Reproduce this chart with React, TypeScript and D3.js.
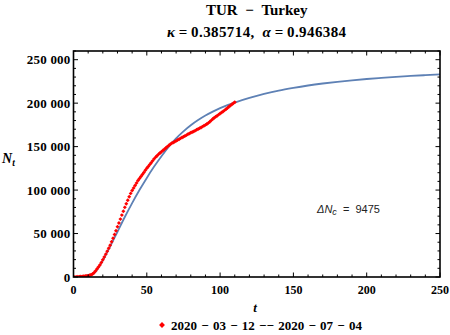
import { useEffect, useRef } from "react";
import * as d3 from "d3";

// fitted curve (t in days, N in cases)
const fitT = [0, 5, 10, 15, 20, 25, 30, 35, 40, 45, 50, 55, 60, 65, 70, 75, 80, 85, 90, 95, 100, 105, 110, 120, 130, 140, 150, 160, 170, 180, 190, 200, 210, 220, 230, 240, 250];
const fitN = [0, 300, 1500, 6000, 19000, 35000, 52000, 69000, 85000, 100000, 114000, 127000, 139000, 150000, 159500, 167500, 174500, 180500, 185700, 190200, 194200, 197700, 200700, 206000, 210600, 214500, 217600, 220300, 222600, 224600, 226300, 227800, 229100, 230300, 231300, 232200, 233000];

// observed daily totals, t = 0, 1, 2, ...
const obsN = [
  0, 50, 100, 200, 350, 500, 700, 900, 1100, 1300,
  1600, 2000, 2500, 3400, 4900, 6900, 9100, 11400, 13900, 16700,
  19800, 23000, 26300, 29600, 33000, 36600, 40500, 44600, 48900, 53300,
  57700, 62200, 66600, 71200, 75700, 80100, 84300, 88400, 92400, 96200,
  99400, 102400, 105300, 108200, 110900, 113300, 115600, 117800, 120300, 122700,
  125000, 127200, 129300, 131400, 133600, 135900, 137900, 139600, 141200, 142700,
  144000, 145500, 147000, 148500, 150000, 151400, 152700, 153800, 154800, 155700,
  156600, 157500, 158500, 159500, 160400, 161300, 162200, 163200, 164200, 165100,
  165900, 166700, 167500, 168400, 169300, 170200, 171100, 172000, 173000, 174000,
  175000, 176100, 177300, 178700, 180200, 181700, 183100, 184400, 185600, 186800,
  188000, 189200, 190400, 191700, 193100, 194500, 195900, 197200, 198500, 199800,
  201000,
];

const xTicks = [0, 50, 100, 150, 200, 250];
const yTicks = [0, 50000, 100000, 150000, 200000, 250000];
const legendText = "2020 − 03 − 12 −− 2020 − 07 − 04";

const App = () => {
  const svgRef = useRef<SVGSVGElement>(null);

  useEffect(() => {
    const svg = d3.select(svgRef.current);
    svg.selectAll("*").remove();

    const m = { left: 73.5, right: 440, top: 51, bottom: 277 };
    const serif = "'Liberation Serif', 'Times New Roman', serif";

    const x = d3.scaleLinear().domain([0, 250]).range([m.left, m.right]);
    const y = d3.scaleLinear().domain([0, 260000]).range([m.bottom, m.top]);

    svg
      .append("defs")
      .append("clipPath")
      .attr("id", "plot-clip")
      .append("rect")
      .attr("x", m.left)
      .attr("y", m.top)
      .attr("width", m.right - m.left)
      .attr("height", m.bottom - m.top);

    const plot = svg.append("g").attr("clip-path", "url(#plot-clip)");

    const line = d3
      .line<number>()
      .x((d, i) => x(fitT[i]))
      .y((d) => y(d))
      .curve(d3.curveMonotoneX);

    plot
      .append("path")
      .attr("d", line(fitN))
      .attr("fill", "none")
      .attr("stroke", "#5E81B5")
      .attr("stroke-width", 1.8);

    const diamond = d3.symbol(d3.symbolDiamond2, 10);
    plot
      .selectAll(".pt")
      .data(obsN)
      .enter()
      .append("path")
      .attr("class", "pt")
      .attr("d", diamond)
      .attr("transform", (d, i) => `translate(${x(i)},${y(d)})`)
      .attr("fill", "#ff0000");

    // frame
    svg
      .append("rect")
      .attr("x", m.left)
      .attr("y", m.top)
      .attr("width", m.right - m.left)
      .attr("height", m.bottom - m.top)
      .attr("fill", "none")
      .attr("stroke", "#000")
      .attr("stroke-width", 1.6);

    // ticks, inward on all four sides
    const ticks = svg.append("g").attr("stroke", "#000").attr("stroke-width", 1);
    d3.range(0, 251, 10).forEach((v) => {
      const len = v % 50 === 0 ? 4.5 : 2.5;
      ticks.append("line").attr("x1", x(v)).attr("x2", x(v)).attr("y1", m.bottom).attr("y2", m.bottom - len);
      ticks.append("line").attr("x1", x(v)).attr("x2", x(v)).attr("y1", m.top).attr("y2", m.top + len);
    });
    d3.range(0, 260001, 10000).forEach((v) => {
      const len = v % 50000 === 0 ? 4.5 : 2.5;
      ticks.append("line").attr("y1", y(v)).attr("y2", y(v)).attr("x1", m.left).attr("x2", m.left + len);
      ticks.append("line").attr("y1", y(v)).attr("y2", y(v)).attr("x1", m.right).attr("x2", m.right - len);
    });

    const fmt = (v: number) => d3.format(",")(v).replace(/,/g, " ");

    svg
      .append("g")
      .selectAll("text")
      .data(xTicks)
      .enter()
      .append("text")
      .attr("x", (d) => x(d))
      .attr("y", 294)
      .attr("text-anchor", "middle")
      .style("font-family", serif)
      .style("font-weight", "bold")
      .style("font-size", "12px")
      .text((d) => d);

    svg
      .append("g")
      .selectAll("text")
      .data(yTicks)
      .enter()
      .append("text")
      .attr("x", 70.5)
      .attr("y", (d) => y(d))
      .attr("dy", "0.35em")
      .attr("text-anchor", "end")
      .style("font-family", serif)
      .style("font-weight", "bold")
      .style("font-size", "13px")
      .style("letter-spacing", "0.2px")
      .style("white-space", "pre")
      .text((d) => fmt(d));

    // titles
    svg
      .append("text")
      .attr("x", (m.left + m.right) / 2)
      .attr("y", 14.5)
      .attr("text-anchor", "middle")
      .style("font-family", serif)
      .style("font-weight", "bold")
      .style("font-size", "15px")
      .style("word-spacing", "4px")
      .style("white-space", "pre")
      .text("TUR − Turkey");

    const sub = svg
      .append("text")
      .attr("x", (m.left + m.right) / 2)
      .attr("y", 36.5)
      .attr("text-anchor", "middle")
      .style("font-family", serif)
      .style("font-weight", "bold")
      .style("font-size", "15px")
      .style("letter-spacing", "0.4px")
      .style("white-space", "pre");
    sub.append("tspan").style("font-style", "italic").text("κ");
    sub.append("tspan").text("\u2009=\u20090.385714,\u2002");
    sub.append("tspan").style("font-style", "italic").text("α");
    sub.append("tspan").text("\u2009=\u20090.946384");

    // axis labels
    svg
      .append("text")
      .attr("x", 255)
      .attr("y", 312)
      .attr("text-anchor", "middle")
      .style("font-family", serif)
      .style("font-weight", "bold")
      .style("font-style", "italic")
      .style("font-size", "13px")
      .text("t");

    const nl = svg
      .append("text")
      .attr("x", 2)
      .attr("y", 163)
      .style("font-family", serif)
      .style("font-weight", "bold")
      .style("font-style", "italic")
      .style("font-size", "14px");
    nl.append("tspan").text("N");
    nl.append("tspan").attr("dy", 3).style("font-size", "9.5px").text("t");

    // annotation
    const an = svg
      .append("text")
      .attr("x", 317)
      .attr("y", 213)
      .style("font-family", "'Liberation Sans', Arial, sans-serif")
      .style("font-size", "11px")
      .style("fill", "#222")
      .style("white-space", "pre");
    an.append("tspan").style("font-style", "italic").text("ΔN");
    an.append("tspan").attr("dy", 2).style("font-style", "italic").style("font-size", "9px").text("c");
    an.append("tspan").attr("dy", -2).text("  =  9475");

    // legend
    svg
      .append("path")
      .attr("d", d3.symbol(d3.symbolDiamond2, 22)())
      .attr("transform", "translate(162,325)")
      .attr("fill", "#ff0000");
    svg
      .append("text")
      .attr("x", 171)
      .attr("y", 329.5)
      .style("font-family", serif)
      .style("font-weight", "bold")
      .style("font-size", "13px")
      .style("word-spacing", "1px")
      .style("white-space", "pre")
      .text(legendText);
  }, []);

  return (
    <svg
      ref={svgRef}
      width={450}
      height={335}
      style={{ position: "absolute", left: 0, top: 0, background: "#fff" }}
    />
  );
};

export default App;
